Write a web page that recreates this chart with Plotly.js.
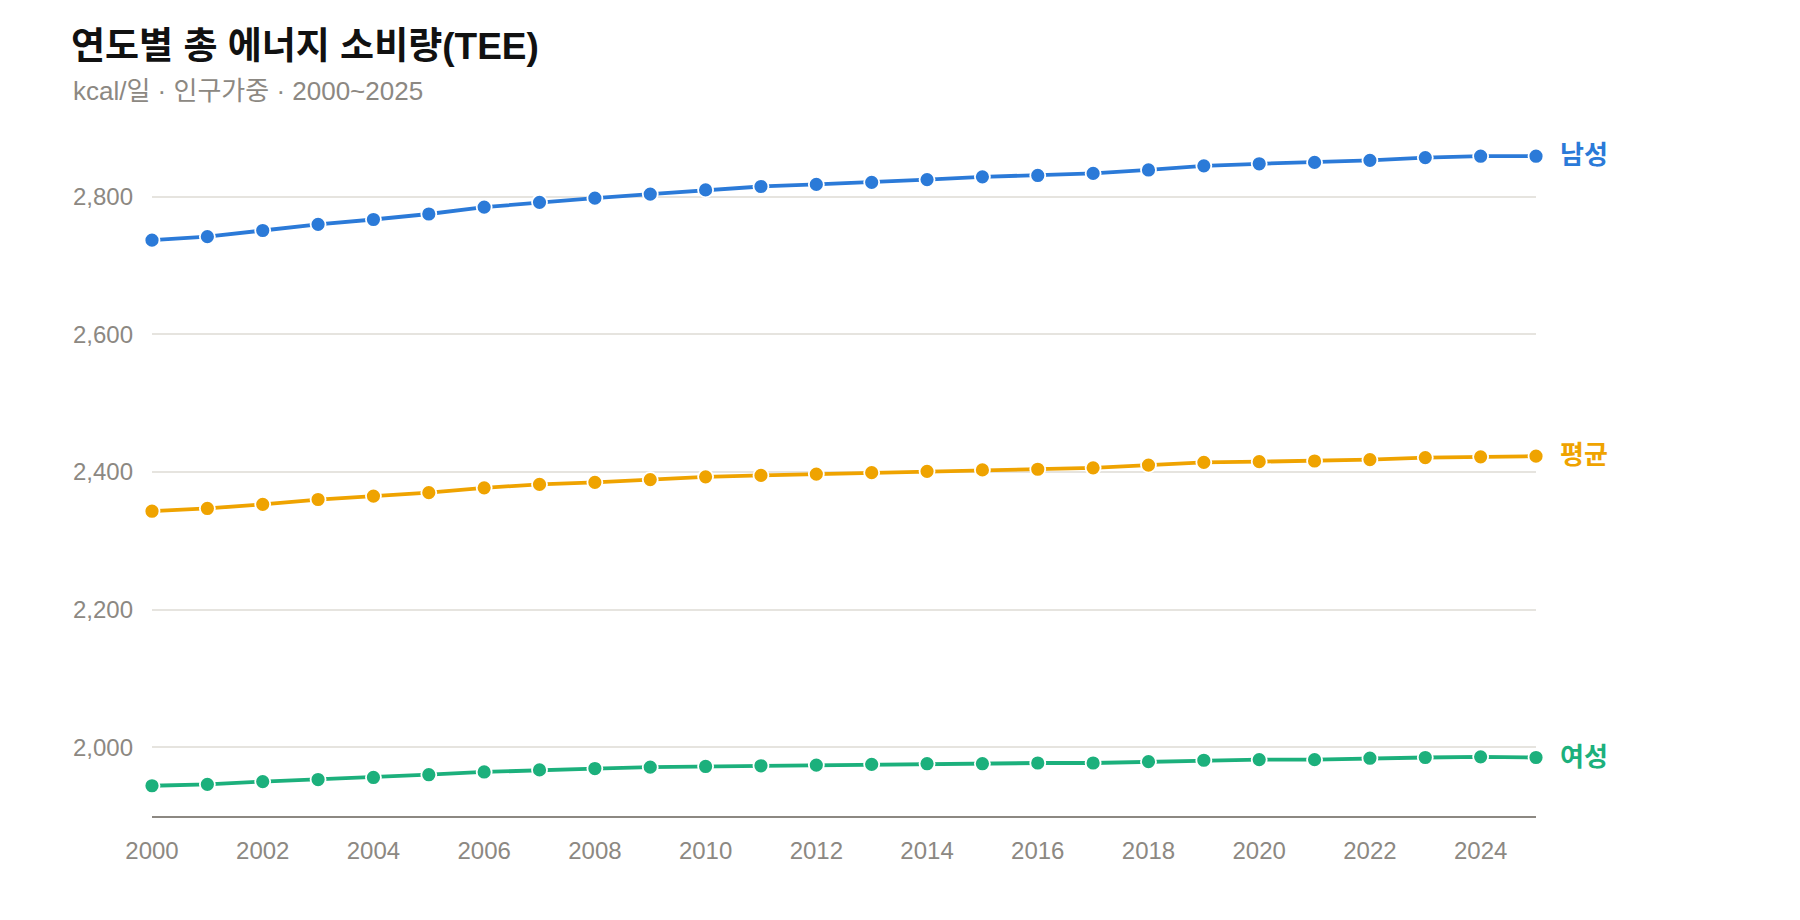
<!DOCTYPE html>
<html lang="ko">
<head>
<meta charset="utf-8">
<script src="https://cdn.plot.ly/plotly-3.0.1.min.js"></script>
<style>
  html, body { margin: 0; padding: 0; background: #ffffff; }
  #chart { width: 1800px; height: 920px; }
</style>
</head>
<body>
<div id="chart"></div>
<script>
// 연도별 총 에너지 소비량 (kcal/일, 인구가중)
const years = [2000, 2001, 2002, 2003, 2004, 2005, 2006, 2007, 2008, 2009,
               2010, 2011, 2012, 2013, 2014, 2015, 2016, 2017, 2018, 2019,
               2020, 2021, 2022, 2023, 2024, 2025];

const male = [2737, 2742, 2751, 2760, 2767, 2775, 2785, 2792, 2798, 2804,
              2810, 2815, 2818, 2821, 2825, 2829, 2831, 2834, 2839, 2845,
              2848, 2850, 2853, 2857, 2859, 2859];

const average = [2343, 2347, 2353, 2360, 2365, 2370, 2377, 2382, 2385, 2389,
                 2393, 2395, 2397, 2399, 2401, 2403, 2404, 2406, 2410, 2414,
                 2415, 2416, 2418, 2421, 2422, 2423];

const female = [1944, 1946, 1950, 1953, 1956, 1960, 1964, 1967, 1969, 1971,
                1972, 1973, 1974, 1975, 1976, 1976, 1977, 1977, 1979, 1981,
                1982, 1982, 1984, 1985, 1986, 1985];

const seriesNames = ['남성', '평균', '여성'];
const yTickValues = [2000, 2200, 2400, 2600, 2800];
const xTickValues = [2000, 2002, 2004, 2006, 2008, 2010, 2012, 2014, 2016, 2018, 2020, 2022, 2024];

const titleText = '연도별 총 에너지 소비량(TEE)';
const subtitleText = 'kcal/일 · 인구가중 · 2000~2025';

const FONT = '"Liberation Sans", Arial, "Noto Sans CJK KR", sans-serif';
const colors = ['#2B7AD8', '#EFA300', '#1CB07C'];
const seriesValues = [male, average, female];

const W = 1800, H = 920;
const margin = { l: 152, r: 264, t: 128, b: 104 };
const plotW = W - margin.l - margin.r;
const plotH = H - margin.t - margin.b;

const traces = seriesValues.map((vals, i) => ({
  type: 'scatter',
  mode: 'lines+markers',
  x: years,
  y: vals,
  name: seriesNames[i],
  cliponaxis: false,
  line: { color: colors[i], width: 3.8 },
  marker: { color: colors[i], size: 15, line: { color: '#ffffff', width: 1.8 } },
  hoverinfo: 'skip'
}));

// series labels at the right end of each line
const endLabels = seriesValues.map((vals, i) => ({
  xref: 'x', yref: 'y',
  x: years[years.length - 1],
  y: vals[vals.length - 1],
  text: '<b>' + seriesNames[i] + '</b>',
  showarrow: false,
  xanchor: 'left', yanchor: 'middle',
  xshift: 22, yshift: 1,
  font: { family: FONT, size: 26, color: colors[i] }
}));

const subtitle = {
  xref: 'paper', yref: 'paper',
  x: (71 - margin.l) / plotW,
  y: (H - margin.b - 91) / plotH,
  xanchor: 'left', yanchor: 'middle',
  text: subtitleText,
  showarrow: false,
  font: { family: FONT, size: 26, color: '#8C8882' }
};

const layout = {
  width: W, height: H,
  margin: margin,
  paper_bgcolor: '#ffffff',
  plot_bgcolor: '#ffffff',
  showlegend: false,
  title: {
    text: '<b>' + titleText + '</b>',
    xref: 'container', yref: 'container',
    x: 71 / W, xanchor: 'left',
    y: 1 - 46 / H, yanchor: 'middle',
    font: { family: FONT, size: 37, color: '#111111' }
  },
  xaxis: {
    range: [2000, 2025],
    tickvals: xTickValues,
    tickformat: 'd',
    showgrid: false,
    zeroline: false,
    showline: true,
    linecolor: '#8C8882',
    linewidth: 2,
    ticks: '',
    ticklabelstandoff: 12,
    tickfont: { family: FONT, size: 24, color: '#8C8882' },
    fixedrange: true
  },
  yaxis: {
    range: [1900, 2900],
    tickvals: yTickValues,
    tickformat: ',d',
    showgrid: true,
    gridcolor: '#E6E4DF',
    gridwidth: 2,
    zeroline: false,
    showline: false,
    ticks: '',
    ticklabelstandoff: 18,
    tickfont: { family: FONT, size: 24, color: '#8C8882' },
    fixedrange: true
  },
  annotations: [subtitle].concat(endLabels)
};

Plotly.newPlot('chart', traces, layout, { displayModeBar: false, staticPlot: true });
</script>
</body>
</html>
